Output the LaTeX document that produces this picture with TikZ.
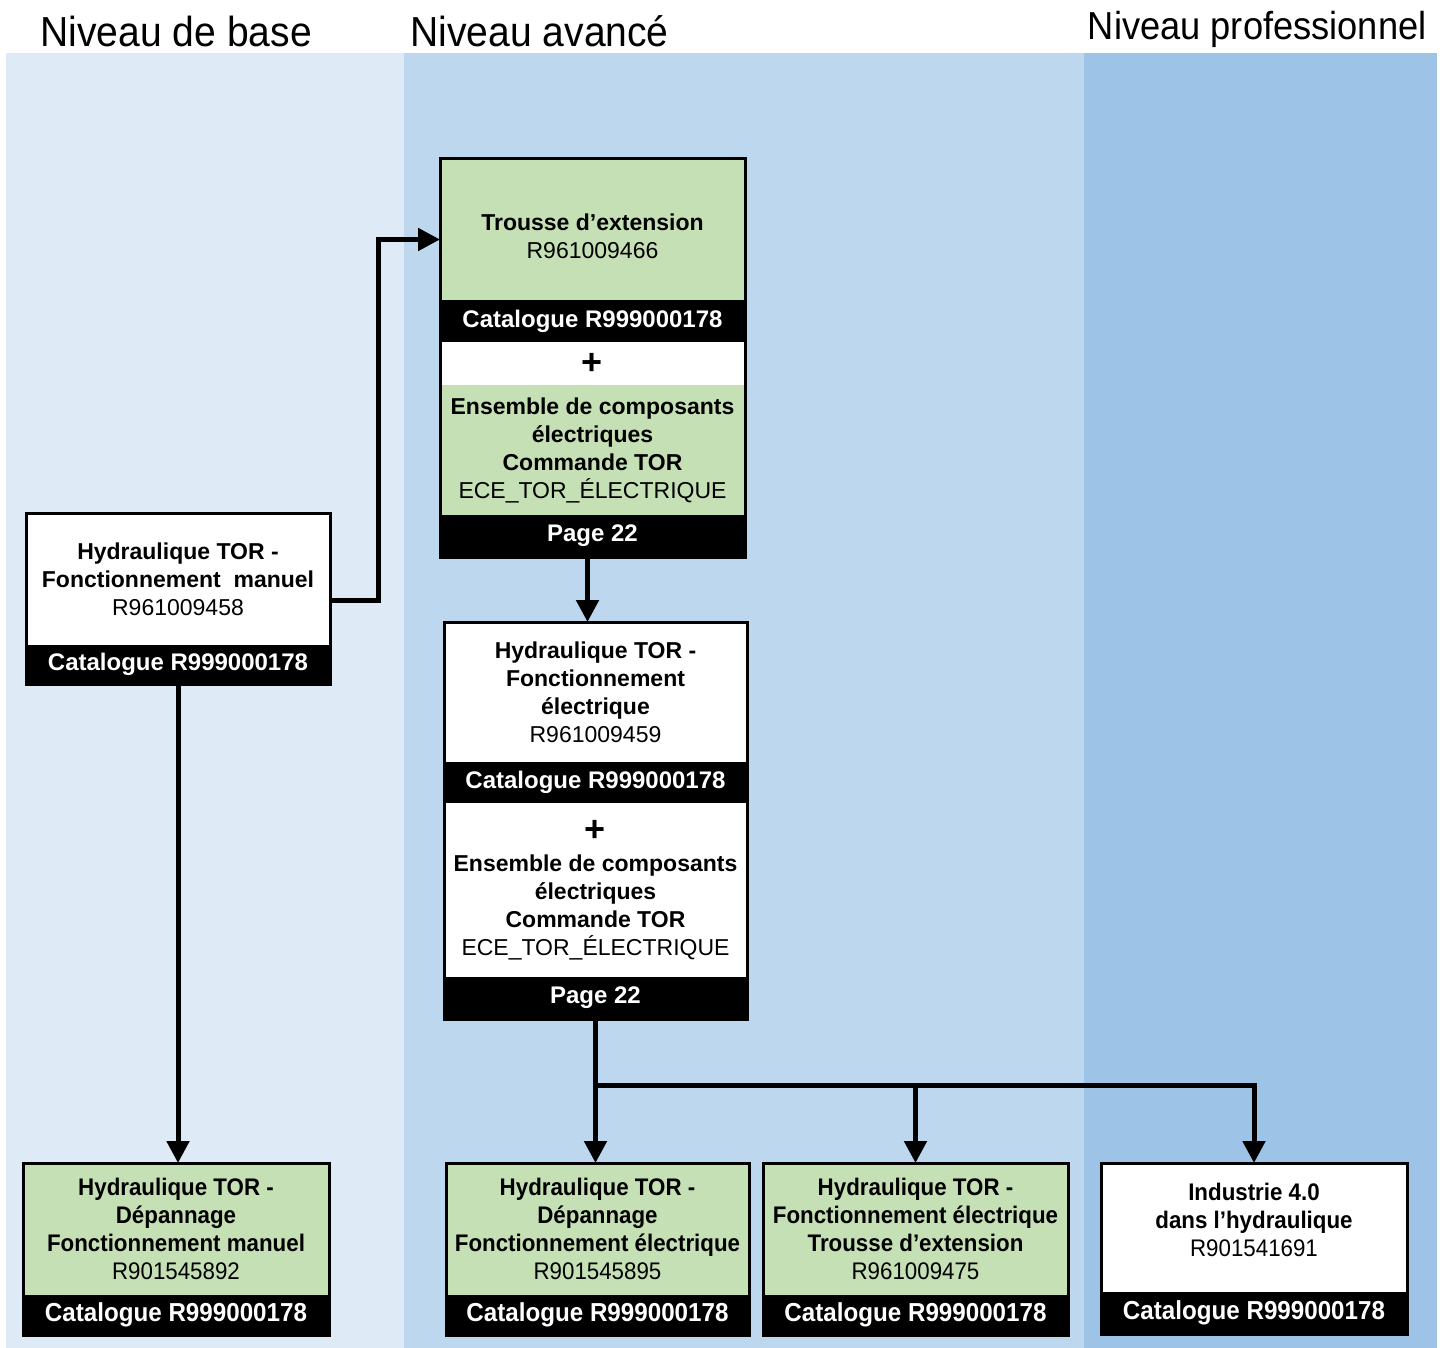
\documentclass[tikz,border=0pt]{standalone}
\usepackage{fontspec}
\setmainfont{Liberation Sans}
\newfontfamily\condfam[FakeStretch=0.93]{Liberation Sans}
\usetikzlibrary{arrows.meta}
\definecolor{bandA}{HTML}{DEEAF6}
\definecolor{bandB}{HTML}{BDD7EE}
\definecolor{bandC}{HTML}{9DC3E6}
\definecolor{tgreen}{HTML}{C5E0B4}
\newcommand{\bodyfont}{\fontsize{11.5}{14}\selectfont}
\newcommand{\bandfont}{\fontsize{12}{14}\selectfont\bfseries}
\newcommand{\condbody}{\condfam\fontsize{12}{14}\selectfont}
\newcommand{\condband}{\condfam\fontsize{13}{14}\selectfont\bfseries}
\newcommand{\plusfont}{\fontsize{18}{18}\selectfont\bfseries}
\newcommand{\headfont}{\condfam\fontsize{21}{24}\selectfont}
\newcommand{\headfontsmall}{\condfam\fontsize{19.5}{24}\selectfont}
\begin{document}
\begin{tikzpicture}[x=0.5pt,y=-0.5pt,
  part/.style={rectangle, anchor=north west, inner sep=0pt, outer sep=0pt, align=center},
  gpart/.style={part, fill=tgreen, font=\bodyfont},
  wpart/.style={part, fill=white, font=\bodyfont},
  bpart/.style={part, fill=black, text=white, font=\bandfont},
  gcond/.style={part, fill=tgreen, font=\condbody},
  wcond/.style={part, fill=white, font=\condbody},
  bcond/.style={part, fill=black, text=white, font=\condband},
  frame/.style={draw=black, line width=1.5pt},
  conn/.style={line width=2.5pt, -{Triangle[width=11pt,length=11pt]}},
  head/.style={font=\headfont, inner sep=0pt}]
\useasboundingbox (0,0) rectangle (1445,1348);
\fill[white] (0,0) rectangle (1445,1348);
% background bands
\fill[bandA] (6,53) rectangle (404,1348);
\fill[bandB] (404,53) rectangle (1084,1348);
\fill[bandC] (1084,53) rectangle (1437,1348);
% headers
\node[head, anchor=base west] (h1) at (40,47) {Niveau de base};
\node[head, anchor=base west] (h2) at (410,47) {Niveau avancé};
\node[head, font=\headfontsmall, anchor=base east] (h3) at (1427,40) {Niveau professionnel};
% Box A
\node[wpart, minimum width=152pt, minimum height=66pt] (A1) at (26,513)
  {\textbf{Hydraulique TOR -}\\\textbf{Fonctionnement~~manuel}\\R961009458};
\node[bpart, minimum width=152pt, minimum height=19.5pt] (A2) at (A1.south west) {Catalogue R999000178};
\draw[frame] (A1.north west) rectangle (A2.south east);
% Box B
\node[gpart, minimum width=152.5pt, minimum height=70.5pt] (B1) at (440,159)
  {\rule{0pt}{15pt}\textbf{Trousse d’extension}\\R961009466};
\node[bpart, minimum width=152.5pt, minimum height=21pt] (B2) at (B1.south west) {Catalogue R999000178};
\node[wpart, minimum width=152.5pt, minimum height=21.5pt] (B3) at (B2.south west) {\plusfont +};
\node[gpart, minimum width=152.5pt, minimum height=65pt] (B4) at (B3.south west)
  {\textbf{Ensemble de composants}\\\textbf{électriques}\\\textbf{Commande TOR}\\ECE\_TOR\_ÉLECTRIQUE};
\node[bpart, minimum width=152.5pt, minimum height=21pt] (B5) at (B4.south west) {Page 22};
\draw[frame] (B1.north west) rectangle (B5.south east);
% Box C
\node[wpart, minimum width=151.5pt, minimum height=70pt] (C1) at (444,622)
  {\textbf{Hydraulique TOR -}\\\textbf{Fonctionnement}\\\textbf{électrique}\\R961009459};
\node[bpart, minimum width=151.5pt, minimum height=20.5pt] (C2) at (C1.south west) {Catalogue R999000178};
\node[wpart, minimum width=151.5pt, minimum height=87pt] (C3) at (C2.south west)
  {{\plusfont +}\\[1pt]\textbf{Ensemble de composants}\\\textbf{électriques}\\\textbf{Commande TOR}\\ECE\_TOR\_ÉLECTRIQUE};
\node[bpart, minimum width=151.5pt, minimum height=21pt] (C4) at (C3.south west) {Page 22};
\draw[frame] (C1.north west) rectangle (C4.south east);
% Bottom boxes
\node[gcond, minimum width=153pt, minimum height=66pt] (D1) at (23,1163)
  {\textbf{Hydraulique TOR -}\\\textbf{Dépannage}\\\textbf{Fonctionnement manuel}\\R901545892};
\node[bcond, minimum width=153pt, minimum height=20pt] (D1b) at (D1.south west) {Catalogue R999000178};
\draw[frame] (D1.north west) rectangle (D1b.south east);
\node[gcond, minimum width=151.5pt, minimum height=66pt] (D2) at (446,1163)
  {\textbf{Hydraulique TOR -}\\\textbf{Dépannage}\\\textbf{Fonctionnement électrique}\\R901545895};
\node[bcond, minimum width=151.5pt, minimum height=20pt] (D2b) at (D2.south west) {Catalogue R999000178};
\draw[frame] (D2.north west) rectangle (D2b.south east);
\node[gcond, minimum width=152.5pt, minimum height=66pt] (D3) at (763,1163)
  {\textbf{Hydraulique TOR -}\\\textbf{Fonctionnement électrique}\\\textbf{Trousse d’extension}\\R961009475};
\node[bcond, minimum width=152.5pt, minimum height=20pt] (D3b) at (D3.south west) {Catalogue R999000178};
\draw[frame] (D3.north west) rectangle (D3b.south east);
\node[wcond, minimum width=153pt, minimum height=64.5pt] (D4) at (1101,1163)
  {\textbf{Industrie 4.0}\\\textbf{dans l’hydraulique}\\R901541691\\[-6pt]\mbox{}};
\node[bcond, minimum width=153pt, minimum height=21pt] (D4b) at (D4.south west) {Catalogue R999000178};
\draw[frame] (D4.north west) rectangle (D4b.south east);
% connectors
\draw[conn] ([yshift=-10.5pt]A1.east) -- ++(48,0) |- ([yshift=-5pt]B1.west);
\draw[conn] (A2.south) -- (A2.south |- D1.north);
\draw[conn] ([xshift=-2.5pt]B5.south) -- ([xshift=-2.5pt]B5.south |- C1.north);
\coordinate (bus) at (C4.south |- 0,1085);
\draw[conn] (C4.south) -- (C4.south |- D2.north);
\draw[conn] (bus) -| (D3.north);
\draw[conn] (bus) -| (D4.north);
\end{tikzpicture}
\end{document}
